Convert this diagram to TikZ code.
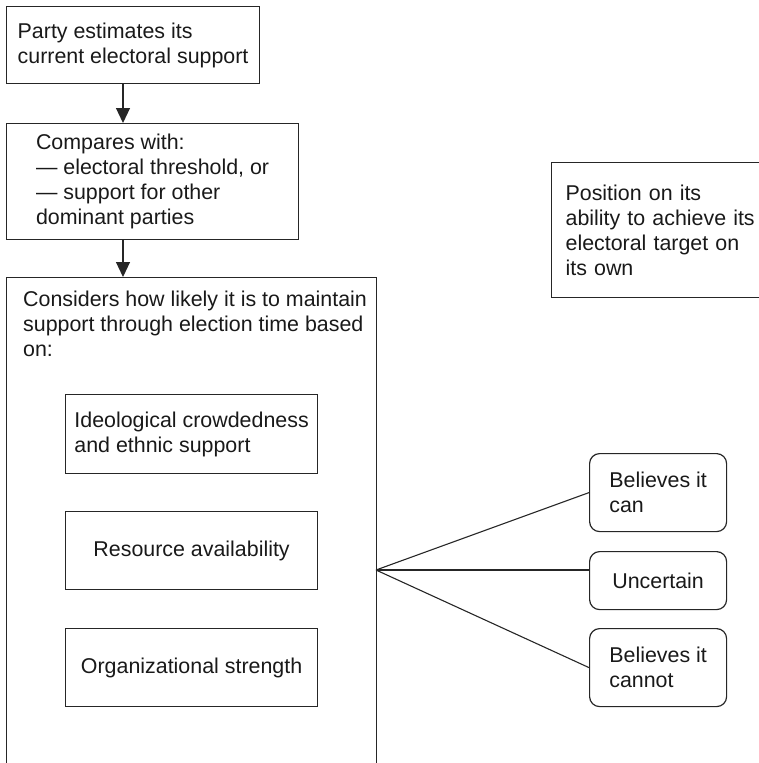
\documentclass[tikz,border=0pt]{standalone}
\usepackage{fontspec}
\setmainfont{Liberation Sans}
\usetikzlibrary{arrows.meta}

\begin{document}
\begin{tikzpicture}[x=1pt,y=-1pt,
  box/.style={draw=black!85, line width=1.2pt, inner sep=0pt, align=left, text=black!90, font=\fontsize{21.4}{25}\selectfont},
  roundbox/.style={box, rounded corners=10pt, minimum width=137pt},
  flow/.style={-{Triangle[length=15pt,width=14pt]}, line width=1.2pt, draw=black!85},
  link/.style={line width=1.1pt, draw=black!85}]
\useasboundingbox (0,0) rectangle (759,763);
\clip (0,0) rectangle (759,763);
\node[box, anchor=north west, minimum width=253pt, minimum height=77pt] (party) at (6,6) {Party estimates its\\current electoral support};
\node[box, anchor=north west, minimum width=292pt, minimum height=116pt] (compare) at (6,123) {Compares with:\\--- electoral threshold, or\\--- support for other\\dominant parties};
\node[box, anchor=north west, minimum width=370pt, minimum height=520pt] (consider) at (6,277) {};
\node[anchor=north west, inner sep=0pt, align=left, text=black!90, font=\fontsize{21.4}{25}\selectfont] (considerlbl) at ([shift={(17,14)}]consider.north west) {Considers how likely it is to maintain\\support through election time based\\on:};
\node[box, anchor=north west, minimum width=252pt, minimum height=79pt] (ideology) at (65,394) {Ideological crowdedness\\and ethnic support};
\node[box, anchor=north west, minimum width=252pt, minimum height=78pt] (resource) at (65,511) {Resource availability};
\node[box, anchor=north west, minimum width=252pt, minimum height=78pt] (organization) at (65,628) {Organizational strength};
\node[box, anchor=north west, minimum width=260pt, minimum height=135pt, text width=232pt] (target) at (551,162) {Position on its\\ability to achieve its\\electoral target on\\its own};
\node[roundbox, anchor=north west, minimum height=78pt] (can) at (589,453) {Believes it\\can};
\node[roundbox, anchor=north west, minimum height=58pt] (unsure) at (589,551) {Uncertain};
\node[roundbox, anchor=north west, minimum height=78pt] (cannot) at (589,628) {Believes it\\cannot};
\coordinate (spine) at (123,0);
\coordinate (fan) at (376,570);
\draw[flow] (spine |- party.south) -- (spine |- compare.north);
\draw[flow] (spine |- compare.south) -- (spine |- consider.north);
\draw[link] (fan) -- (can.west);
\draw[link] (fan) -- (unsure.west |- fan);
\draw[link] (fan) -- (cannot.west);
\end{tikzpicture}
\end{document}
